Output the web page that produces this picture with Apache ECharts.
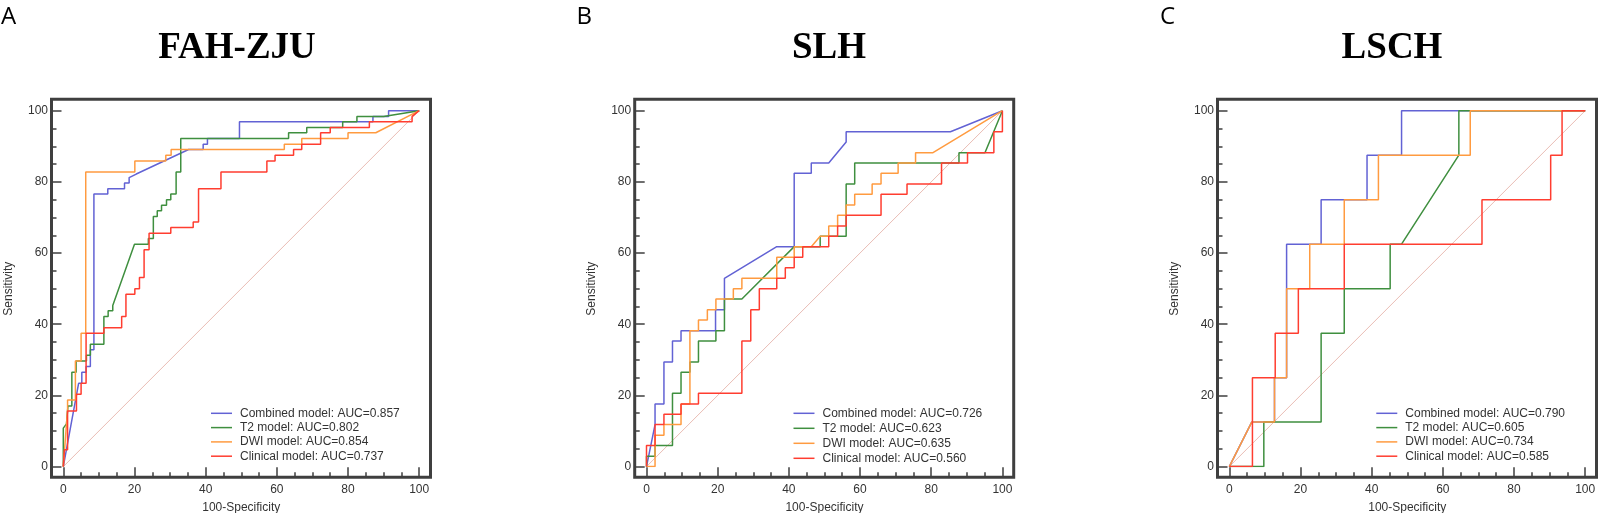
<!DOCTYPE html>
<html>
<head>
<meta charset="utf-8">
<script src="https://cdn.jsdelivr.net/npm/echarts@6/dist/echarts.min.js"></script>
<style>
    html, body { margin: 0; padding: 0; background: #fff; }
    #chart { width: 1598px; height: 513px; }
</style>
</head>
<body>
<div id="chart"></div>
<script>
// ROC curves, three cohorts (x = 100-Specificity, y = Sensitivity)
const panelTitles = ['FAH-ZJU', 'SLH', 'LSCH'];
const panelLetters = ['A', 'B', 'C'];
const modelNames = ['Combined model', 'T2 model', 'DWI model', 'Clinical model'];
const aucFah = ['0.857', '0.802', '0.854', '0.737'];
const aucSlh = ['0.726', '0.623', '0.635', '0.560'];
const aucLsch = ['0.790', '0.605', '0.734', '0.585'];
const axisRange = [0, 100];
const refLine = [[0, 0], [100, 100]];

const fahCombined = [[0,0],[4.3,23.4],[5.2,23.4],[5.2,26.5],[6.4,26.5],[6.4,28.1],[7.6,28.1],[7.6,32.8],[8.6,32.8],[8.6,76.6],[12.5,76.6],[12.5,78.1],[17.2,78.1],[17.2,79.7],[18.5,79.7],[18.5,81.2],[20.5,82.2],[35.2,89.1],[39.3,89.1],[39.3,90.6],[40.5,90.6],[40.5,92.2],[49.5,92.2],[49.5,96.9],[87,96.9],[87,98.4],[91.4,98.4],[91.4,100],[100,100]];
const fahT2 = [[0,0],[0,10.8],[0.9,12],[1.3,12],[1.3,17],[2.4,17],[2.4,26.5],[3.6,26.5],[3.6,29.7],[6.5,29.7],[6.5,31.3],[7.6,31.3],[7.6,34.4],[11.4,34.4],[11.4,42.2],[12.6,42.2],[12.6,43.8],[13.9,43.8],[13.9,45.3],[20,62.5],[23.9,62.5],[23.9,64.1],[25.3,64.1],[25.3,70.3],[26.4,70.3],[26.4,71.9],[27.6,71.9],[27.6,73.4],[29,73.4],[29,75],[30.2,75],[30.2,76.6],[31.7,76.6],[31.7,82.8],[33,82.8],[33,92.2],[63.3,92.2],[63.3,93.8],[68.4,93.8],[68.4,95.3],[78.5,95.3],[78.5,96.9],[82.5,96.9],[82.5,98.4],[90,98.4],[100,100]];
const fahDwi = [[0,0],[1.2,16],[1.2,18.7],[3.4,18.7],[3.4,29.7],[5,29.7],[5,37.5],[6.3,37.5],[6.3,82.8],[20.1,82.8],[20.1,85.9],[28.8,85.9],[28.8,87.5],[30.3,87.5],[30.3,89.1],[62.1,89.1],[62.1,90.6],[67,90.6],[67,92.2],[80,92.2],[80,93.8],[87.8,93.8],[100,100]];
const fahClinical = [[0,0],[0.3,4.7],[1.2,4.7],[1.2,15.6],[3.7,15.6],[3.7,20.3],[5,20.3],[5,23.4],[6.4,23.4],[6.4,37.5],[11.4,37.5],[11.4,39],[16.4,39],[16.4,42.2],[17.6,42.2],[17.6,48.4],[20.1,48.4],[20.1,50],[21.4,50],[21.4,53.1],[22.7,53.1],[22.7,60.9],[24.1,60.9],[24.1,65.6],[30.2,65.6],[30.2,67.2],[36.5,67.2],[36.5,68.7],[38,68.7],[38,78.1],[44.3,78.1],[44.3,82.8],[57.2,82.8],[57.2,85.9],[59.5,85.9],[59.5,87.5],[64.7,87.5],[64.7,89.1],[67,89.1],[67,90.6],[72.3,90.6],[72.3,93.8],[75,93.8],[75,95.3],[86,95.3],[86,96.9],[98,96.9],[98,98.4],[100,100]];

const slhCombined = [[0,0],[2.4,11.8],[2.4,17.6],[4.9,17.6],[4.9,29.4],[7.3,29.4],[7.3,35.3],[9.7,35.3],[9.7,38.2],[19.4,38.2],[19.4,44.1],[21.9,44.1],[21.9,52.9],[36.6,61.8],[41.5,61.8],[41.5,82.4],[46.3,82.4],[46.3,85.3],[51.2,85.3],[56.1,91.2],[56.1,94.1],[85.4,94.1],[100,100]];
const slhT2 = [[0,0],[0,2.9],[2.4,2.9],[2.4,5.9],[7.3,5.9],[7.3,20.6],[9.7,20.6],[9.7,26.5],[12.2,26.5],[12.2,29.4],[14.6,29.4],[14.6,35.3],[19.5,35.3],[19.5,38.2],[21.9,38.2],[21.9,47.1],[26.8,47.1],[41.5,61.8],[48.8,61.8],[48.8,64.7],[56.1,64.7],[56.1,79.4],[58.5,79.4],[58.5,85.3],[87.8,85.3],[87.8,88.2],[95.1,88.2],[100,100]];
const slhDwi = [[0,0],[2.4,0],[2.4,8.8],[4.9,8.8],[4.9,11.8],[9.7,11.8],[9.7,17.6],[12.2,17.6],[12.2,38.2],[14.6,38.2],[14.6,41.2],[17.1,41.2],[17.1,44.1],[19.5,44.1],[19.5,47.1],[24.4,47.1],[24.4,50],[26.8,50],[26.8,52.9],[36.6,52.9],[36.6,58.8],[41.5,58.8],[41.5,61.8],[46.3,61.8],[48.8,64.7],[51.2,64.7],[51.2,67.6],[53.7,67.6],[53.7,70.6],[56.1,70.6],[56.1,73.5],[58.5,73.5],[58.5,76.5],[63.4,76.5],[63.4,79.4],[65.9,79.4],[65.9,82.4],[70.7,82.4],[70.7,85.3],[75.6,85.3],[75.6,88.2],[80.5,88.2],[100,100]];
const slhClinical = [[0,0],[0,5.9],[2.4,5.9],[2.4,11.8],[4.9,11.8],[4.9,14.7],[9.7,14.7],[9.7,17.6],[14.6,17.6],[14.6,20.6],[26.8,20.6],[26.8,35.3],[29.3,35.3],[29.3,44.1],[31.7,44.1],[31.7,50],[36.6,50],[36.6,52.9],[39,52.9],[39,55.9],[41.5,55.9],[41.5,58.8],[43.9,58.8],[43.9,61.8],[51.2,61.8],[51.2,64.7],[53.7,64.7],[53.7,67.6],[56.1,67.6],[56.1,70.6],[65.9,70.6],[65.9,76.5],[73.2,76.5],[73.2,79.4],[82.9,79.4],[82.9,85.3],[90.2,85.3],[90.2,88.2],[97.6,88.2],[97.6,94.1],[100,94.1],[100,100]];

const lschCombined = [[0,0],[6.3,12.5],[12.7,12.5],[12.7,25],[16.1,25],[16.1,62.5],[25.8,62.5],[25.8,75],[38.7,75],[38.7,87.5],[48.4,87.5],[48.4,100],[100,100]];
const lschT2 = [[0,0],[9.7,0],[9.7,12.5],[25.8,12.5],[25.8,37.5],[32.3,37.5],[32.3,50],[45.2,50],[45.2,62.5],[48.4,62.5],[64.5,87.5],[64.5,100],[100,100]];
const lschDwi = [[0,0],[6.3,12.5],[12.7,12.5],[12.7,25],[16.1,25],[16.1,50],[22.6,50],[22.6,62.5],[32.3,62.5],[32.3,75],[41.9,75],[41.9,87.5],[67.7,87.5],[67.7,100],[100,100]];
const lschClinical = [[0,0],[6.5,0],[6.5,25],[12.9,25],[12.9,37.5],[19.4,37.5],[19.4,50],[32.3,50],[32.3,62.5],[71,62.5],[71,75],[90.3,75],[90.3,87.5],[93.5,87.5],[93.5,100],[100,100]];

const COLORS = ['#6262d4', '#3f8f3f', '#ff9b40', '#ff3d30'];
const REF_COLOR = '#e9bcb4';
const AXIS_COLOR = '#3f3f3f';
const TEXT_COLOR = '#333';

// layout: data box (0..100) per panel, plus an outer frame grid a few px wider
const PLOT = 355.9;
const panelX0 = [63.3, 646.5, 1229.3];   // pixel of x = 0
const Y100 = 110.7;                      // pixel of y = 100
const PAD_L = 11.8, PAD_R = 11.3, PAD_T = 11.4, PAD_B = 10.6;
const titleX = [237, 829, 1392];
const letterX = [1, 576.5, 1160];
const legendRowGap = [14.3, 15, 14.3];

const panels = [
    { curves: [fahCombined, fahT2, fahDwi, fahClinical], auc: aucFah },
    { curves: [slhCombined, slhT2, slhDwi, slhClinical], auc: aucSlh },
    { curves: [lschCombined, lschT2, lschDwi, lschClinical], auc: aucLsch }
];

const grid = [], xAxis = [], yAxis = [], series = [], legend = [], graphic = [];
const label = { color: TEXT_COLOR, fontSize: 12, fontFamily: 'Liberation Sans' };
const tickStyle = { color: AXIS_COLOR, width: 1.5 };

function dataAxis(gridIndex, isX) {
    return {
        gridIndex, type: 'value', min: axisRange[0], max: axisRange[1], interval: 20,
        position: isX ? 'bottom' : 'left',
        offset: isX ? PAD_B : PAD_L,
        axisLine: { show: false, onZero: false },
        axisTick: { show: true, inside: true, length: 10, lineStyle: tickStyle },
        minorTick: { show: true, splitNumber: 4, length: 5, lineStyle: tickStyle },
        splitLine: { show: false }, minorSplitLine: { show: false },
        axisLabel: { ...label, margin: isX ? 6 : 3.5 },
        name: isX ? '100-Specificity' : 'Sensitivity',
        nameLocation: 'middle', nameGap: isX ? 24 : 37,
        nameTextStyle: { ...label }
    };
}

panels.forEach((p, i) => {
    const x0 = panelX0[i];
    // outer frame
    grid.push({
        left: x0 - PAD_L, top: Y100 - PAD_T,
        width: PLOT + PAD_L + PAD_R, height: PLOT + PAD_T + PAD_B,
        outerBoundsMode: 'none', containLabel: false,
        show: true, borderColor: AXIS_COLOR, borderWidth: 3, backgroundColor: 'transparent'
    });
    xAxis.push({ gridIndex: i * 2, type: 'value', show: false, min: 0, max: 1 });
    yAxis.push({ gridIndex: i * 2, type: 'value', show: false, min: 0, max: 1 });

    // data box
    grid.push({
        left: x0, top: Y100, width: PLOT, height: PLOT,
        outerBoundsMode: 'none', containLabel: false
    });
    xAxis.push(dataAxis(i * 2 + 1, true));
    yAxis.push(dataAxis(i * 2 + 1, false));

    const ax = i * 2 + 1;
    series.push({
        type: 'line', xAxisIndex: ax, yAxisIndex: ax, data: refLine,
        symbol: 'none', silent: true, z: 1,
        lineStyle: { color: REF_COLOR, width: 1 }
    });
    const names = [];
    p.curves.forEach((c, k) => {
        const name = `${modelNames[k]}: AUC=${p.auc[k]}`;
        names.push(name);
        series.push({
            type: 'line', name, xAxisIndex: ax, yAxisIndex: ax, data: c,
            symbol: 'none', z: 2 + k,
            itemStyle: { color: COLORS[k] },
            lineStyle: { color: COLORS[k], width: 1.5 }
        });
    });

    legend.push({
        data: names, orient: 'vertical',
        left: x0 + (i === 0 ? 41.5 : 41.3) * PLOT / 100,
        top: 413.3 - legendRowGap[i] / 2,
        icon: 'rect', itemWidth: 21, itemHeight: 1.5, itemGap: 0,
        selectedMode: false, padding: 0,
        textStyle: {
            color: TEXT_COLOR, fontSize: 12, fontFamily: 'Liberation Sans',
            lineHeight: legendRowGap[i], padding: [0, 0, 0, 3]
        }
    });

    graphic.push({
        type: 'text', x: titleX[i], y: 48.5,
        style: {
            text: panelTitles[i], textAlign: 'center', textVerticalAlign: 'middle',
            font: 'bold 37px "Liberation Serif"', fill: '#000'
        }
    });
    graphic.push({
        type: 'text', x: letterX[i], y: 17,
        style: {
            text: panelLetters[i], textAlign: 'left', textVerticalAlign: 'middle',
            font: '24px "Open Sans"', fill: '#000'
        }
    });
});

const chart = echarts.init(document.getElementById('chart'));
chart.setOption({
    animation: false,
    backgroundColor: '#fff',
    grid, xAxis, yAxis, series, legend, graphic
});
</script>
</body>
</html>
